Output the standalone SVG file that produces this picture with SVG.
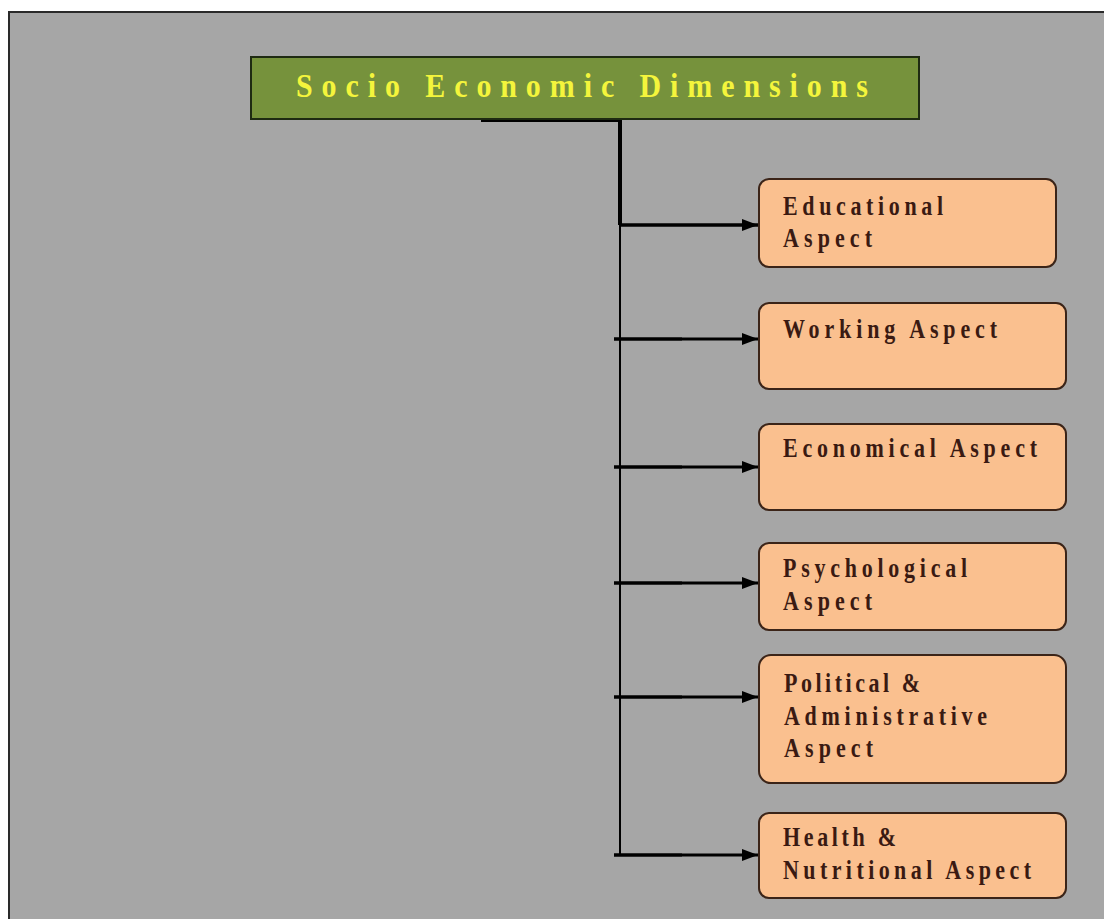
<svg xmlns="http://www.w3.org/2000/svg" width="1104" height="919" viewBox="0 0 1104 919">
<style>
.bg{fill:#a6a6a6;stroke:#2a2a2a;stroke-width:2}
.title{fill:#76923c;stroke:#1e2a12;stroke-width:2}
.ttext{font-family:"Liberation Serif",serif;font-weight:bold;font-size:30px;fill:#f4f53c}
.box{fill:#fac08f;stroke:#3b2418;stroke-width:2}
.btext{font-family:"Liberation Serif",serif;font-weight:bold;font-size:22px;fill:#3a1a12}
.thick{stroke:#000;stroke-width:4;fill:none}
.mid{stroke:#000;stroke-width:3.5;fill:none}
.thin{stroke:#000;stroke-width:2;fill:none}
.arr{stroke:#000;stroke-width:2.8;fill:none}
</style>
<defs>
<marker id="ah" markerUnits="userSpaceOnUse" markerWidth="16" markerHeight="12" refX="16" refY="6" orient="auto">
<path d="M0,0 L16,6 L0,12 z" fill="#000"/>
</marker>
</defs>
<rect x="0" y="0" width="1104" height="919" fill="#ffffff"/>
<rect class="bg" x="9" y="12" width="1110" height="920"/>

<g id="connectors">
<path class="thick" d="M481,120 H620 V225"/>
<line class="mid" x1="620" y1="225" x2="758" y2="225" marker-end="url(#ah)"/>
<line class="thin" x1="620" y1="225" x2="620" y2="855"/>
<line class="mid" x1="614" y1="339" x2="682" y2="339"/>
<line class="arr" x1="682" y1="339" x2="758" y2="339" marker-end="url(#ah)"/>
<line class="mid" x1="614" y1="467" x2="682" y2="467"/>
<line class="arr" x1="682" y1="467" x2="758" y2="467" marker-end="url(#ah)"/>
<line class="mid" x1="614" y1="583" x2="682" y2="583"/>
<line class="arr" x1="682" y1="583" x2="758" y2="583" marker-end="url(#ah)"/>
<line class="mid" x1="614" y1="697" x2="682" y2="697"/>
<line class="arr" x1="682" y1="697" x2="758" y2="697" marker-end="url(#ah)"/>
<line class="mid" x1="614" y1="855" x2="682" y2="855"/>
<line class="arr" x1="682" y1="855" x2="758" y2="855" marker-end="url(#ah)"/>
</g>

<g id="title">
<rect class="title" x="251" y="57" width="668" height="62"/>
<text class="ttext" transform="translate(296,97) scale(1,1.15)" textLength="572" lengthAdjust="spacing">Socio Economic Dimensions</text>
</g>

<g id="educational">
<rect class="box" x="759" y="179" width="297" height="88" rx="10"/>
<text class="btext" transform="translate(783,215) scale(1,1.2)" textLength="160" lengthAdjust="spacing">Educational</text>
<text class="btext" transform="translate(783,247) scale(1,1.2)" textLength="89" lengthAdjust="spacing">Aspect</text>
</g>

<g id="working">
<rect class="box" x="759" y="303" width="307" height="86" rx="10"/>
<text class="btext" transform="translate(783,338) scale(1,1.2)" textLength="214" lengthAdjust="spacing">Working Aspect</text>
</g>

<g id="economical">
<rect class="box" x="759" y="424" width="307" height="86" rx="10"/>
<text class="btext" transform="translate(783,457) scale(1,1.2)" textLength="254" lengthAdjust="spacing">Economical Aspect</text>
</g>

<g id="psychological">
<rect class="box" x="759" y="543" width="307" height="87" rx="10"/>
<text class="btext" transform="translate(783,577) scale(1,1.2)" textLength="184" lengthAdjust="spacing">Psychological</text>
<text class="btext" transform="translate(783,610) scale(1,1.2)" textLength="89" lengthAdjust="spacing">Aspect</text>
</g>

<g id="political">
<rect class="box" x="759" y="655" width="307" height="128" rx="12"/>
<text class="btext" transform="translate(784,692) scale(1,1.2)" textLength="136" lengthAdjust="spacing">Political &amp;</text>
<text class="btext" transform="translate(784,725) scale(1,1.2)" textLength="203" lengthAdjust="spacing">Administrative</text>
<text class="btext" transform="translate(784,757) scale(1,1.2)" textLength="89" lengthAdjust="spacing">Aspect</text>
</g>

<g id="health">
<rect class="box" x="759" y="813" width="307" height="85" rx="10"/>
<text class="btext" transform="translate(783,846) scale(1,1.2)" textLength="113" lengthAdjust="spacing">Health &amp;</text>
<text class="btext" transform="translate(783,879) scale(1,1.2)" textLength="248" lengthAdjust="spacing">Nutritional Aspect</text>
</g>
</svg>
